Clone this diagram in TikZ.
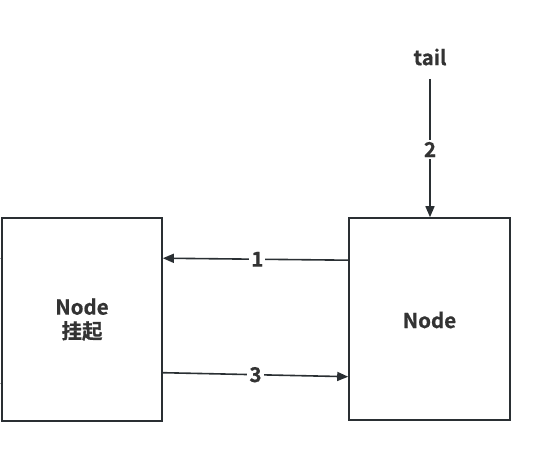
\documentclass[tikz,border=0pt]{standalone}
\usepackage{fontspec}
\setmainfont{Noto Sans CJK SC}[BoldFont={* Bold}, BoldFeatures={FakeBold=0.6}]
\usetikzlibrary{arrows.meta,calc}
\definecolor{ink}{HTML}{2A2F33}
\definecolor{txt}{HTML}{333333}
\tikzset{
  box/.style={draw=ink, line width=1.6pt, fill=white, minimum width=#1, inner sep=0pt},
  conn/.style={draw=ink, line width=1.6pt, -{Triangle[length=11pt,width=9pt]}},
  lbl/.style={fill=white, text=txt, font=\bfseries\fontsize{20.5}{22}\selectfont, inner sep=2pt},
  ttl/.style={text=txt, font=\bfseries\fontsize{20.5}{24}\selectfont, align=center}
}
\begin{document}
\begin{tikzpicture}[x=1pt,y=-1pt]
\useasboundingbox (0,0) rectangle (542,450);
\node[box=160pt, minimum height=203pt] (L) at (82,319.5) {};
\node[box=161pt, minimum height=202pt] (R) at (429.5,319) {};
\node[ttl] (Ltxt) at (L.center) {Node\\挂起};
\node[ttl] (Rtxt) at ($(R.center)+(0,1)$) {Node};
\node[text=txt, font=\bfseries\fontsize{20.5}{22}\selectfont] (tail) at (430,57) {tail};
\coordinate (stubA) at (0,258);
\coordinate (stubB) at (0,383);
\draw[gray!70, line width=1pt] (stubA) -- (L.west |- stubA);
\draw[gray!70, line width=1pt] (stubB) -- (L.west |- stubB);
% connectors
\draw[conn] ($(R.north west)+(0,43)$) -- node[lbl, pos=0.49] (n1) {1} ($(L.north east)+(0,41)$);
\draw[conn] ($(L.north east)+(0,155.5)$) -- node[lbl, pos=0.5] (n3) {3} ($(R.north west)+(0,159.5)$);
\draw[conn] ($(tail.south)+(0,10)$) -- node[lbl, pos=0.51] (n2) {2} (R.north -| tail);
\end{tikzpicture}
\end{document}
